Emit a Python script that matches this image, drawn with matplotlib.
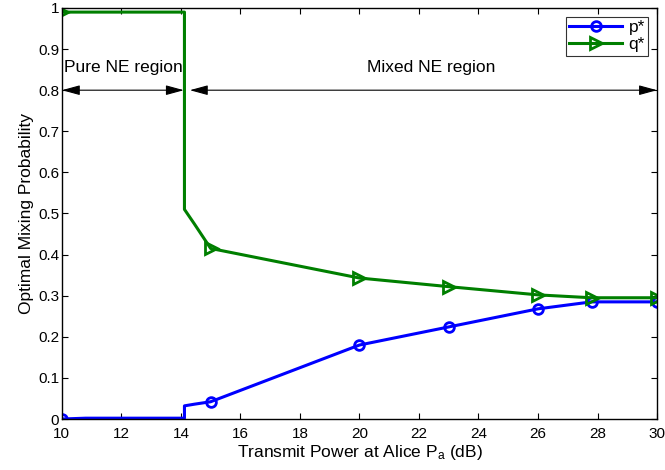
import numpy as np
import matplotlib.pyplot as plt

plt.rcParams['font.family'] = ['Liberation Sans', 'DejaVu Sans']
plt.rcParams['mathtext.fontset'] = 'custom'
plt.rcParams['mathtext.rm'] = 'Liberation Sans'
plt.rcParams['mathtext.it'] = 'Liberation Sans'

# transmit power (dB), dense around the switch from pure to mixed NE
power = [10, 10.8, 14.12, 14.12, 14.45, 15, 20, 23, 26, 27.8, 30]
p_star = [0.0, 0.002, 0.002, 0.032, 0.036, 0.042, 0.18, 0.224, 0.268, 0.285, 0.285]
q_star = [0.99, 0.99, 0.99, 0.51, 0.475, 0.415, 0.343, 0.322, 0.302, 0.295, 0.295]
marker_idx = [0, 5, 6, 7, 8, 9, 10]

blue = '#0000FF'
green = '#007F00'

fig = plt.figure(figsize=(6.65, 4.7), dpi=100)
ax = fig.add_axes([0.093, 0.1085, 0.895, 0.8745])

ax.plot(power, p_star, '-o', color=blue, lw=2.2, ms=7, mfc='none', mew=2,
        markevery=marker_idx, label='p*')
ax.plot(power, q_star, '->', color=green, lw=2.2, ms=8, mfc='none', mew=2,
        markevery=marker_idx, label='q*')

# region annotations
arrow = dict(arrowstyle='<|-|>,head_length=1.1,head_width=0.3', color='black', lw=0.8,
             shrinkA=0, shrinkB=0)
ax.annotate('', xy=(10, 0.8), xytext=(14.1, 0.8), arrowprops=arrow)
ax.annotate('', xy=(14.3, 0.8), xytext=(30, 0.8), arrowprops=arrow)
ax.text(12.08, 0.856, 'Pure NE region', ha='center', va='center', fontsize=12.5)
ax.text(22.4, 0.856, 'Mixed NE region', ha='center', va='center', fontsize=12.5)

ax.set_xlim(10, 30)
ax.set_ylim(0, 1)
ax.set_xticks(np.arange(10, 31, 2))
ax.set_yticks(np.arange(0, 1.01, 0.1))
ax.set_yticklabels(['0', '0.1', '0.2', '0.3', '0.4', '0.5', '0.6', '0.7', '0.8', '0.9', '1'])
ax.tick_params(direction='in', top=True, right=True, labelsize=11, length=4)
ax.tick_params(axis='x', pad=6)
ax.tick_params(axis='y', pad=2)
for s in ax.spines.values():
    s.set_linewidth(1.0)

ax.set_xlabel('Transmit Power at Alice P$_\\mathregular{a}$ (dB)', fontsize=12.5, labelpad=1)
ax.set_ylabel('Optimal Mixing Probability', fontsize=12.5, labelpad=3)

leg = ax.legend(loc='upper right', fontsize=12.5, fancybox=False, edgecolor='black',
                handlelength=3, borderpad=0.2, labelspacing=0.1, borderaxespad=0.5,
                handletextpad=0.4)
leg.get_frame().set_linewidth(0.8)

fig.savefig('out.png', dpi=100)
